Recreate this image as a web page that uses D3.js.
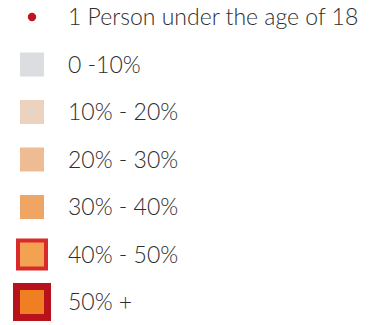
<!DOCTYPE html>
<html><head><meta charset="utf-8">
<script src="https://cdn.jsdelivr.net/npm/d3@7"></script>
<style>html,body{margin:0;padding:0;background:#fff;}</style>
</head><body>
<svg id="c" width="382" height="325"></svg>
<script>
const dotLabel = "1 Person under the age of 18";
const categories = ["0 -10%", "10% - 20%", "20% - 30%", "30% - 40%", "40% - 50%", "50% +"];
const fills = ["#dcdde1", "#ecd3c0", "#efbb95", "#f1a565", "#f3a252", "#ef7f22"];
const borders = [null, null, null, null, "#d92a2b", "#b8131d"];
const borderWidths = [0, 0, 0, 0, 4, 7];

const svg = d3.select("#c");
const font = "Lato, 'Open Sans', sans-serif";
const y = d3.scalePoint().domain(["dot", ...categories]).range([17, 302]);
const textX = 68, cx = 32, size = 24, fs = 23;

svg.append("circle").attr("cx", cx).attr("cy", y("dot")).attr("r", 4.2).attr("fill", "#c0151f");
svg.append("text").attr("x", textX).attr("y", y("dot")).attr("dy", "0.35em")
  .attr("font-family", font).attr("font-weight", 300).attr("font-size", fs).attr("fill", "#2e2e2e").text(dotLabel);

const g = svg.selectAll("g.item").data(categories).join("g").attr("class","item");
g.each(function(d, i) {
  const el = d3.select(this);
  const cy = y(d);
  const bw = borderWidths[i];
  if (bw > 0) {
    el.append("rect").attr("x", cx - size/2 - bw).attr("y", cy - size/2 - bw)
      .attr("width", size + 2*bw).attr("height", size + 2*bw).attr("fill", borders[i]);
  }
  el.append("rect").attr("x", cx - size/2).attr("y", cy - size/2)
    .attr("width", size).attr("height", size).attr("fill", fills[i]);
  el.append("text").attr("x", textX).attr("y", cy).attr("dy", "0.35em")
    .attr("font-family", font).attr("font-weight", 300).attr("font-size", fs).attr("fill", "#2e2e2e").text(d);
});
</script>
</body></html>
